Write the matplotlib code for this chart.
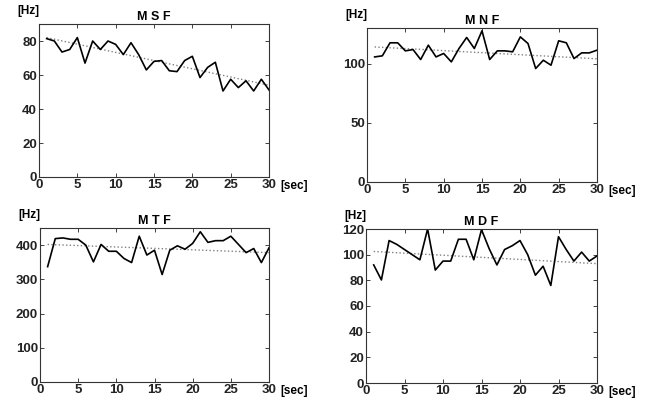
import numpy as np
import matplotlib.pyplot as plt

plt.rcParams['font.family'] = ['Liberation Sans', 'DejaVu Sans']

t = np.arange(1, 31)

msf = [81.4, 80, 73.5, 75, 82, 67, 80, 75, 80, 78,
       72, 79, 72, 63, 68, 68.5, 62.5, 62, 68.5, 71,
       58.5, 64.5, 67.5, 50.6, 57.5, 52.6, 56.6, 50.6, 57.5, 51.2]
mnf = [105.6, 106.5, 117.5, 117.5, 110.7, 111.8, 103.4, 115.5, 105.6, 108.5,
       101.4, 112.7, 122, 112.7, 127.6, 103.4, 110.7, 110.7, 109.9, 122.5,
       116.9, 95.8, 102.8, 98.6, 119.2, 117.5, 104.2, 109, 109, 111.3]
mtf = [337, 419, 421, 417, 417, 400, 351, 402, 382, 382,
       361, 349, 426, 371, 385, 314, 385, 398, 388, 405,
       439, 408, 413, 413, 426, 402, 378, 390, 349, 392]
mdf = [92, 80.3, 111, 108, 104, 100, 96, 120, 88, 95,
       95, 112, 112, 96, 119.5, 104.6, 92, 104, 107, 111,
       100, 84, 91, 76, 114, 104, 95, 102, 95, 99]

# trend lines: value at t=1 and t=30
msf_trend = [82, 54]
mnf_trend = [114, 104]
mtf_trend = [402, 378]
mdf_trend = [102.5, 93]

titles = ['M S F', 'M N F', 'M T F', 'M D F']
ylims = [90, 130, 450, 120]
yticks = [[0, 20, 40, 60, 80], [0, 50, 100], [0, 100, 200, 300, 400],
          [0, 20, 40, 60, 80, 100, 120]]
xticks = [0, 5, 10, 15, 20, 25, 30]

W, H = 646, 401
# axes boxes in pixels: left, right, top, bottom
boxes = [(39, 269, 24, 177), (367, 597, 28, 182),
         (40, 269, 228, 382), (366, 597, 229, 383)]

fig = plt.figure(figsize=(W / 100, H / 100), dpi=100)

series = [msf, mnf, mtf, mdf]
trends = [msf_trend, mnf_trend, mtf_trend, mdf_trend]

for i in range(4):
    l, r, tp, b = boxes[i]
    ax = fig.add_axes([l / W, 1 - b / H, (r - l) / W, (b - tp) / H])
    ax.plot([t[0], t[-1]], trends[i], color='#808080', lw=1.0, ls=':')
    ax.plot(t, series[i], color='black', lw=1.2)
    ax.set_xlim(0, 30)
    ax.set_ylim(0, ylims[i])
    ax.set_xticks(xticks)
    ax.set_yticks(yticks[i])
    ax.tick_params(direction='in', length=3, width=0.6, top=True, right=True,
                   labelsize=9.5, pad=1.5, colors='#222222')
    for lab in ax.get_xticklabels() + ax.get_yticklabels():
        lab.set_fontweight('bold')
    for sp in ax.spines.values():
        sp.set_color('#333333')
        sp.set_linewidth(0.8)
    ax.set_title(titles[i], fontsize=9, fontweight='bold', pad=3)
    ax.annotate('[Hz]', xy=(0, 1), xycoords='axes fraction', xytext=(0, 5),
                textcoords='offset points', ha='right', va='bottom',
                fontsize=8.5, fontweight='bold')
    ax.annotate('[sec]', xy=(1, 0), xycoords='axes fraction', xytext=(8, -2.5),
                textcoords='offset points', ha='left', va='top',
                fontsize=8.5, fontweight='bold')

fig.savefig('out.png', dpi=100, facecolor='white')
